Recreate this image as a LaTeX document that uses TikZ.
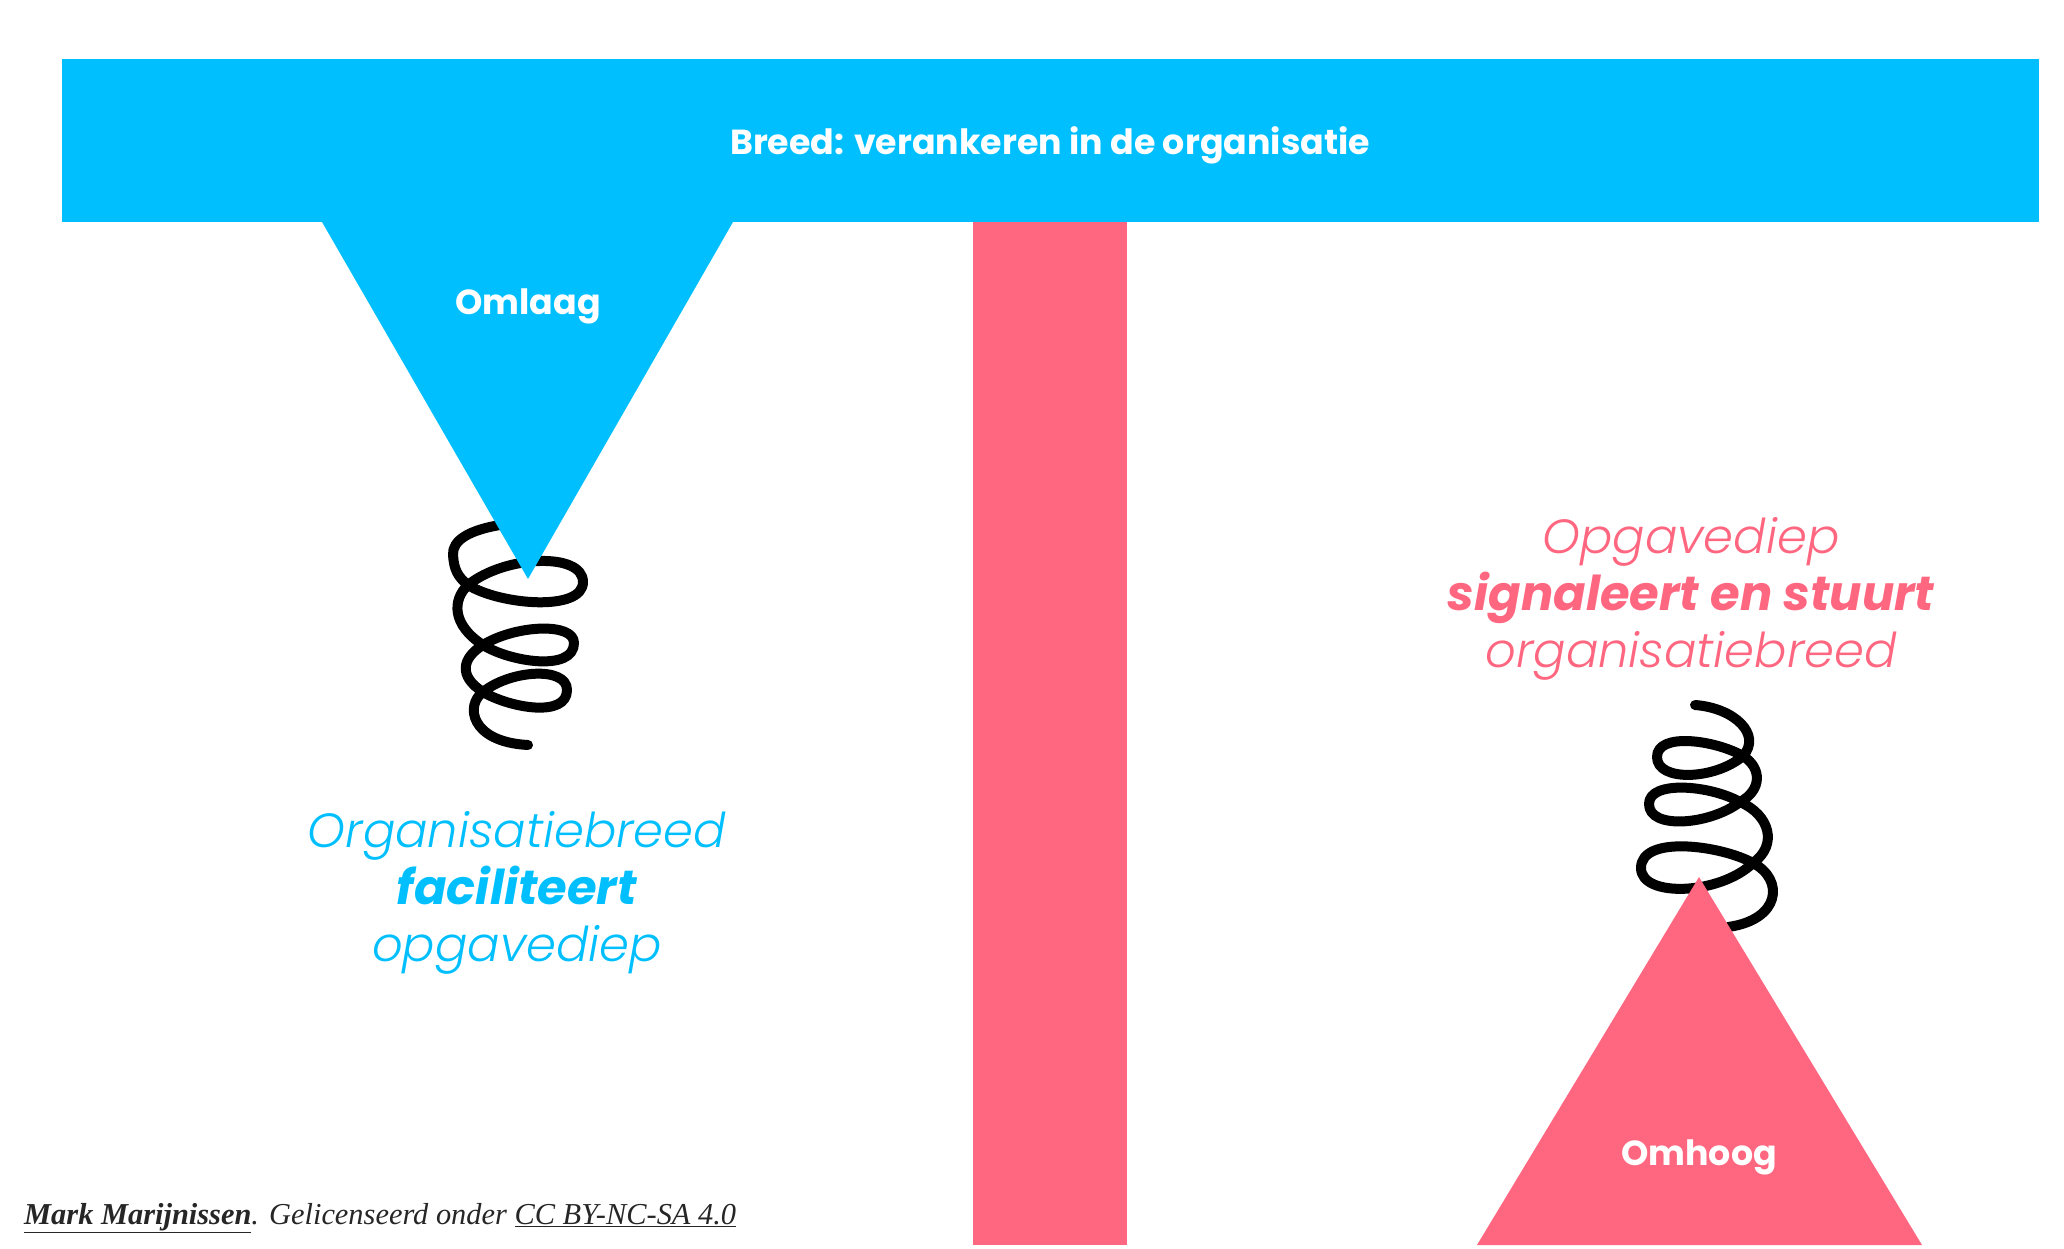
\documentclass[tikz,border=0pt]{standalone}
\usepackage{fontspec}
\setmainfont{Poppins}
\newfontfamily\lightfont{Poppins Light}
\newfontfamily\notefont{Liberation Serif}
\definecolor{breedblue}{HTML}{00BFFF}
\definecolor{diepred}{HTML}{FF6680}
\tikzset{
 bandlabel/.style={text=white,font=\fontsize{34.8}{42}\selectfont\bfseries},
 bluetext/.style={text=breedblue,align=center,font=\fontsize{48}{57}\selectfont\lightfont\itshape},
 redtext/.style={text=diepred,align=center,font=\fontsize{48}{57}\selectfont\lightfont\itshape},
 spring/.style={line width=10,line cap=round,line join=round,black}
}
\begin{document}
\begin{tikzpicture}[x=1pt,y=-1pt]
 \useasboundingbox (0,0) rectangle (2064,1249);

 % left spring
 \draw[spring] (500,525) .. controls (470,530) and (452,540) .. (453,555)
  .. controls (454,570) and (458,577) .. (468,585)
  .. controls (500,605) and (583,612) .. (583,582)
  .. controls (583,552) and (505,555) .. (468,585)
  .. controls (452,600) and (452,625) .. (483,645)
  .. controls (510,662) and (574,672) .. (574,643)
  .. controls (574,622) and (515,625) .. (483,645)
  .. controls (462,658) and (458,676) .. (483,692)
  .. controls (510,708) and (567,718) .. (567,690)
  .. controls (567,666) and (510,670) .. (483,692)
  .. controls (465,705) and (470,742) .. (528,745);
 % right spring
 \draw[spring] (1695,705) .. controls (1735,708) and (1762,735) .. (1743,756)
  .. controls (1715,740) and (1657,732) .. (1657,757)
  .. controls (1657,782) and (1715,780) .. (1743,756)
  .. controls (1762,768) and (1762,790) .. (1740,802)
  .. controls (1710,785) and (1649,780) .. (1649,804)
  .. controls (1649,830) and (1710,825) .. (1740,802)
  .. controls (1770,815) and (1778,845) .. (1753,863)
  .. controls (1720,845) and (1641,835) .. (1641,868)
  .. controls (1641,898) and (1720,895) .. (1753,863)
  .. controls (1785,880) and (1780,920) .. (1728,927);

 % pink bar and triangle
 \fill[diepred] (973,222) rectangle (1127,1245);
 \fill[diepred] (1699,877) -- (1922,1245) -- (1477,1245) -- cycle;
 % blue band and triangle
 \fill[breedblue] (62,59) rectangle (2039,222);
 \fill[breedblue] (322,222) -- (733,222) -- (528,579) -- cycle;

 \node[bandlabel] (breed) at (1050,145) {Breed: verankeren in de organisatie};
 \node[bandlabel] (omlaag) at (528,306) {Omlaag};
 \node[bandlabel] (omhoog) at (1699,1157) {Omhoog};

 \node[bluetext] (faciliteert) at (517,893) {Organisatiebreed\\{\normalfont\bfseries\itshape faciliteert}\\opgavediep};
 \node[redtext] (signaleert) at (1691,599) {Opgavediep\\{\normalfont\bfseries\itshape signaleert en stuurt}\\organisatiebreed};

 \node[anchor=west,text=black!85,font=\fontsize{30.4}{36}\selectfont\notefont\itshape,inner sep=0] (licentie) at (24,1218) {\underline{\textbf{Mark Marijnissen}}. Gelicenseerd onder \underline{CC BY-NC-SA 4.0}};
\end{tikzpicture}
\end{document}
